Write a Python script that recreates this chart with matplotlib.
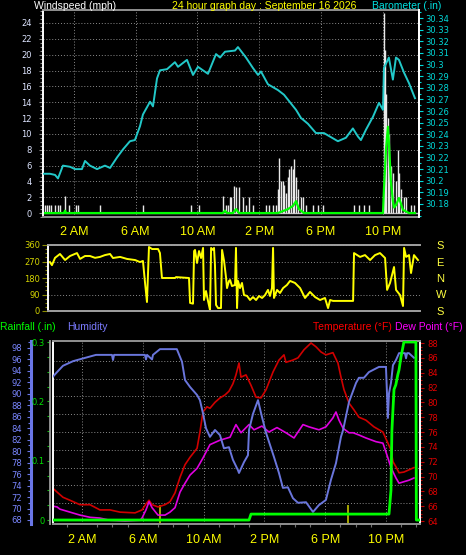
import matplotlib.pyplot as plt
import numpy as np
from matplotlib.ticker import MultipleLocator

plt.rcParams['font.family'] = ['Liberation Sans', 'DejaVu Sans']

W, H = 466, 555
PT = 0.72  # points per pixel at dpi 100

# ---- values (time in hours since midnight) ----
baro_hours = [0.00, 0.45, 0.78, 0.97, 1.29, 1.75, 2.07, 2.52, 2.72, 3.04, 3.50, 4.01,
              4.34, 4.79, 5.18, 5.63, 5.95, 6.28, 6.47, 6.93, 7.12, 7.38, 7.57, 8.03,
              8.54, 8.74, 9.32, 9.71, 10.03, 10.68, 11.20, 11.46, 11.78, 12.43, 12.62,
              13.14, 13.59, 13.92, 14.11, 14.56, 15.21, 15.60, 16.38, 16.70, 17.15,
              17.67, 18.19, 19.09, 19.61, 20.06, 20.39, 20.58, 20.91, 21.36, 21.75,
              22.01, 22.07, 22.39, 22.65, 22.85, 23.04, 23.37, 23.69, 24.08]
baro_inhg = [30.206, 30.206, 30.205, 30.202, 30.213, 30.212, 30.210, 30.210, 30.217,
             30.213, 30.210, 30.213, 30.211, 30.220, 30.227, 30.234, 30.235, 30.247,
             30.257, 30.268, 30.264, 30.288, 30.295, 30.296, 30.302, 30.298, 30.304,
             30.291, 30.298, 30.292, 30.309, 30.306, 30.311, 30.312, 30.315, 30.306,
             30.297, 30.291, 30.294, 30.283, 30.278, 30.274, 30.261, 30.254, 30.249,
             30.241, 30.241, 30.234, 30.237, 30.245, 30.238, 30.235, 30.244, 30.255,
             30.267, 30.261, 30.297, 30.306, 30.287, 30.306, 30.304, 30.293, 30.284,
             30.271]

gust_hours = [0.13, 0.26, 0.39, 0.52, 0.78, 0.97, 1.10, 1.42, 1.68, 2.14, 2.27, 3.69,
              6.47, 9.58, 10.10, 11.65, 11.84, 11.97, 12.10, 12.17, 12.36, 12.49, 12.69,
              12.94, 13.14, 13.33, 13.59, 14.43, 14.63, 14.89, 15.08, 15.21, 15.28,
              15.40, 15.53, 15.60, 15.73, 15.86, 15.92, 16.05, 16.18, 16.25, 16.38,
              16.50, 16.70, 16.83, 17.02, 17.48, 17.80, 18.12, 20.13, 20.45, 20.78,
              21.10, 22.07, 22.14, 22.20, 22.33, 22.39, 22.52, 22.65, 22.85, 22.98,
              23.04, 23.17, 23.37, 23.50, 23.82, 24.01]
gust_mph = [1, 1, 1, 1, 1, 1, 1, 2.1, 1, 1, 1, 1,
            1, 1, 1, 2.1, 1, 1, 2, 2, 3.4, 3.3, 3.3,
            2, 1, 2, 1, 1, 1, 1, 1, 3, 6.9,
            4, 4, 3.5, 2.5, 4.5, 5.5, 6, 5.5, 6.8, 4.5,
            3, 2, 2, 1, 1, 1, 1, 1, 1, 1,
            1, 25.3, 20.6, 15, 12, 10, 6, 5, 4, 8,
            5, 3, 2, 2, 1, 1]

wind_hours = [0.00, 1.36, 1.42, 1.49, 11.65, 11.78, 11.91, 12.30, 12.49, 12.69, 15.21,
              15.34, 15.86, 16.18, 16.38, 16.57, 16.76, 16.89, 22.01, 22.07, 22.20,
              22.33, 22.39, 22.52, 22.65, 22.72, 22.85, 23.04, 23.17, 23.30, 23.50,
              23.69, 24.08]
wind_mph = [0, 0, 0.3, 0, 0, 0.3, 0, 0, 0.5, 0, 0,
            0.1, 0.5, 0.9, 1.5, 0.5, 0.2, 0, 0, 3, 8,
            10.9, 9, 4, 1.5, 0.7, 1.0, 1.9, 1.2, 0.4, 0.2,
            0, 0]

dir_hours = [0.06, 0.19, 0.39, 0.71, 1.04, 1.36, 1.81, 2.01, 2.33, 2.65, 2.98, 3.30,
             3.62, 3.95, 4.14, 4.60, 5.05, 5.57, 5.89, 6.08, 6.21, 6.34, 6.47, 6.67,
             7.06, 7.18, 7.31, 8.16, 8.22, 9.06, 9.13, 9.32, 9.39, 9.45, 9.58, 9.71,
             9.84, 9.97, 10.03, 10.16, 10.29, 10.42, 10.49, 10.61, 10.68, 10.74, 10.81,
             10.94, 11.13, 11.20, 11.33, 11.46, 11.52, 11.65, 11.72, 11.84, 12.04,
             12.10, 12.17, 12.23, 12.36, 12.49, 12.62, 12.82, 13.01, 13.20, 13.40,
             13.59, 13.79, 13.98, 14.17, 14.30, 14.43, 14.50, 14.56, 14.76, 14.95,
             15.15, 15.40, 15.60, 15.92, 16.25, 16.57, 16.89, 17.22, 17.54, 17.86,
             18.06, 18.19, 18.38, 19.68, 19.74, 20.13, 20.45, 20.78, 21.10, 21.42,
             21.75, 21.88, 22.07, 22.33, 22.46, 22.72, 22.91, 22.98, 23.11, 23.30,
             23.43, 23.62, 23.88]
dir_deg = [267, 250, 290, 311, 278, 300, 316, 284, 300, 300, 290, 295,
           305, 311, 289, 295, 284, 278, 267, 273, 158, 49, 349, 338,
           338, 316, 180, 180, 185, 180, 44, 40, 327, 333, 262, 327,
           289, 344, 60, 109, 55, 5, 344, 333, 344, 251, 33,
           16, 16, 333, 273, 180, 125, 164, 169, 136, 142,
           344, 16, 164, 125, 153, 87, 82, 60, 76, 60,
           82, 71, 87, 115, 82, 125, 344, 71, 115, 98,
           125, 142, 164, 153, 125, 71, 104, 76, 60, 71,
           16, 60, 55, 55, 316, 295, 305, 278, 305, 316,
           289, 115, 153, 240, 115, 87, 27, 344, 295, 305,
           207, 305, 278]

hum_hours = [0.09, 0.36, 0.75, 1.41, 2.92, 3.97, 4.04, 4.11, 6.14, 6.21, 6.28, 6.61,
             6.67, 7.13, 8.24, 8.58, 8.78, 9.11, 9.57, 9.76, 9.96, 10.16, 10.42, 10.75,
             11.08, 11.34, 11.67, 11.93, 12.26, 12.33, 12.66, 12.92, 12.99, 13.25,
             13.58, 13.84, 14.11, 14.63, 14.96, 15.22, 15.55, 15.88, 16.21, 16.74,
             17.20, 17.59, 18.05, 18.38, 18.71, 19.04, 19.18, 19.57, 20.03, 20.22,
             20.55, 20.88, 21.54, 22.00, 22.13, 22.20, 22.33, 22.46, 22.66, 22.86,
             23.25, 23.32, 23.39, 23.51, 23.84]
hum_pct = [93.0, 93.8, 94.9, 95.7, 96.8, 96.8, 95.9, 96.8, 96.8, 96.0, 96.8, 96.0,
           96.8, 97.8, 97.8, 95.6, 92.4, 91.2, 89.8, 88.9, 86.6, 84.0, 82.5, 83.7,
           82.8, 80.5, 80.7, 78.5, 76.7, 76.2, 78.1, 79.3, 83.7, 86.5,
           88.9, 86.0, 83.2, 79.0, 76.2, 73.6, 73.7, 71.8, 71.0, 71.1,
           69.4, 70.6, 71.5, 75.0, 77.9, 82.5, 83.7, 88.6, 91.9, 92.8,
           92.8, 93.8, 94.7, 94.7, 85.8, 90.1, 91.9, 95.0, 95.9, 97.1,
           97.1, 96.2, 97.1, 97.1, 96.3]

temp_hours = [0.09, 0.36, 0.75, 1.21, 1.87, 2.53, 3.18, 3.84, 4.50, 5.49, 5.95, 6.21,
              6.41, 6.61, 7.00, 7.46, 7.79, 8.12, 8.45, 8.78, 9.11, 9.57, 9.76, 9.96,
              10.22, 10.42, 10.75, 11.08, 11.41, 11.67, 11.93, 12.13, 12.33, 12.46,
              12.79, 13.12, 13.45, 13.78, 14.11, 14.57, 14.96, 15.29, 15.42, 15.88,
              16.21, 16.61, 17.07, 17.39, 17.72, 18.05, 18.51, 18.84, 19.04, 19.24,
              19.57, 19.89, 20.22, 20.68, 21.21, 21.80, 22.13, 22.33, 22.46, 22.66,
              22.86, 23.18, 23.51, 23.84]
temp_f = [68.4, 67.9, 67.2, 66.8, 66.2, 66.2, 65.5, 65.5, 65.2, 65.1, 65.5, 66.3,
          66.8, 66.2, 65.9, 66.2, 66.6, 67.8, 69.9, 71.6, 72.6, 73.8, 76.0, 78.7,
          79.4, 79.2, 80.0, 80.6, 81.0, 81.5, 82.5, 83.7, 85.3, 83.4,
          83.7, 82.3, 80.7, 80.6, 81.7, 84.1, 85.7, 86.4, 85.4, 85.7,
          86.0, 87.1, 88.0, 87.5, 86.8, 86.4, 86.7, 85.3, 83.4, 81.7,
          79.9, 79.0, 78.0, 77.6, 76.7, 76.0, 74.5, 73.6, 72.0, 71.3,
          70.5, 70.6, 70.9, 71.2]

dew_hours = [0.09, 0.36, 0.55, 1.21, 1.87, 2.53, 3.18, 3.84, 4.83, 5.82, 5.95, 6.21,
             6.41, 6.61, 7.00, 7.46, 7.79, 8.12, 8.45, 8.78, 9.11, 9.57, 9.96, 10.42,
             11.08, 11.74, 12.13, 12.46, 12.99, 13.32, 13.84, 14.30, 14.83, 15.42,
             15.95, 16.54, 16.93, 17.59, 18.05, 18.51, 18.71, 18.91, 19.18, 19.57,
             19.84, 20.22, 20.68, 21.34, 21.80, 22.13, 22.33, 22.66, 22.86, 23.18,
             23.51, 23.84]
dew_f = [66.0, 65.9, 65.6, 65.2, 64.8, 64.5, 64.4, 64.1, 64.0, 64.1, 64.4, 65.5,
         66.6, 65.8, 64.8, 64.8, 65.2, 65.8, 67.9, 69.1, 70.2, 71.1, 72.5, 74.3,
         74.9, 75.3, 77.0, 75.9, 77.0, 76.3, 76.8, 76.0, 76.6, 75.9,
         75.2, 77.0, 76.7, 76.3, 76.7, 77.9, 78.7, 77.6, 76.5, 75.9,
         75.9, 75.6, 75.2, 74.7, 74.5, 72.5, 71.2, 69.8, 69.1, 69.3,
         69.5, 69.8]

rain_hours = [0.09, 12.99, 13.12, 22.20, 22.33, 22.39, 22.46, 22.53, 22.65, 22.78,
              22.86, 22.99, 23.12, 23.18, 23.97, 24.00, 24.24]
rain_in = [0.0, 0.0, 0.01, 0.01, 0.05, 0.15, 0.186, 0.22, 0.228, 0.245,
           0.253, 0.275, 0.292, 0.30, 0.30, 0.0, 0.0]

sun_hours = [7.13, 19.5]   # sunrise / sunset markers

time_ticks = [2, 6, 10, 14, 18, 22]
time_labels = ["2 AM", "6 AM", "10 AM", "2 PM", "6 PM", "10 PM"]
dir_ticks = [0, 90, 180, 270, 360]
dir_letters = ["S", "W", "N", "E", "S"]

# ---- figure ----
fig = plt.figure(figsize=(W / 100, H / 100), dpi=100)
fig.patch.set_facecolor("black")

NARROW = "Liberation Sans Narrow"
GRID = dict(color="#8a8a8a", linestyle=(0, (1, 2)), linewidth=0.7)


def axes_px(left, top, right, bottom):
    return fig.add_axes([left / W, 1 - bottom / H, (right - left) / W, (bottom - top) / H])


def text_px(x, y, s, **kw):
    fig.text(x / W, 1 - y / H, s, fontsize=7.5, va="baseline", **kw)


def frame(ax, left="white", right=None, top="#909090", bottom="#909090"):
    for side, col in (("left", left), ("right", right), ("top", top), ("bottom", bottom)):
        if col is None:
            ax.spines[side].set_visible(False)
        else:
            ax.spines[side].set_color(col)
            ax.spines[side].set_linewidth(1.4)


# panel 1: wind speed + barometer
ax1 = axes_px(43, 10, 419, 217)
ax1.set_facecolor("black")
ax1.set_xlim(0, 24.34)
ax1.set_ylim(-0.5, 25.64)
ax1.axhline(0, color="#b8b8b8", lw=1)
ax1.vlines(gust_hours, 0, gust_mph, color="#e8e8e8", lw=1)
ax1.plot(wind_hours, wind_mph, color="#00ff00", lw=1.6, clip_on=False)
ax1.set_yticks(range(0, 25, 2))
ax1.yaxis.set_minor_locator(MultipleLocator(0.5))
ax1.set_xticks(time_ticks, time_labels)
ax1.grid(True, **GRID)
ax1.set_axisbelow(True)
ax1.tick_params(axis="y", which="both", colors="#909090", labelcolor="#dde4ff",
                labelsize=6, labelfontfamily=NARROW, length=4 * PT, width=0.8, pad=7 * PT)
ax1.tick_params(axis="y", which="minor", length=3 * PT)
ax1.tick_params(axis="x", length=0, labelcolor="#ffff00", labelsize=9, pad=9 * PT)
frame(ax1, right="white")

ax1b = ax1.twinx()
ax1b.set_ylim(30.1688, 30.3469)
ax1b.plot(baro_hours, baro_inhg, color="#22c8c8", lw=1.4)
baro_ticks = np.round(np.arange(30.18, 30.345, 0.01), 2)
ax1b.set_yticks(baro_ticks, [f"{v:g}" for v in baro_ticks])
ax1b.yaxis.set_minor_locator(MultipleLocator(0.005))
ax1b.tick_params(axis="y", which="both", colors="#00d8d8", labelsize=6,
                 labelfontfamily=NARROW, length=4 * PT, width=0.8, pad=2 * PT)
ax1b.tick_params(axis="y", which="minor", length=2 * PT)
frame(ax1b, left=None, right="white", top=None, bottom=None)

# panel 2: wind direction
ax2 = axes_px(48, 245, 420, 311)
ax2.set_facecolor("black")
ax2.set_xlim(-0.065, 24.01)
ax2.set_ylim(0, 360)
ax2.plot(dir_hours, dir_deg, color="#ffff00", lw=1.4)
ax2.set_xticks([])
ax2.set_yticks(dir_ticks)
ax2.yaxis.set_minor_locator(MultipleLocator(22.5))
ax2.grid(True, axis="y", **GRID)
ax2.tick_params(axis="y", which="both", colors="#8a8a00", labelcolor="#d4d400",
                labelsize=6, labelfontfamily=NARROW, length=6 * PT, width=0.8, pad=2 * PT)
ax2.tick_params(axis="y", which="minor", length=3 * PT)
frame(ax2, bottom="#a0a0a0", top="#a0a0a0")

ax2b = ax2.twinx()
ax2b.set_ylim(0, 360)
ax2b.set_yticks(dir_ticks, dir_letters)
ax2b.tick_params(axis="y", length=0, labelcolor="#ffff40", labelsize=8, pad=16 * PT)
frame(ax2b, left=None, right=None, top=None, bottom=None)

# panel 3: temperature, dew point, humidity, rainfall
ax3 = axes_px(53, 341, 420, 524)
ax3.set_facecolor("black")
ax3.set_xlim(0.092, 24.24)
ax3.set_ylim(63.6, 88.27)
for v in np.linspace(64, 88, 11)[1:-1]:
    ax3.axhline(v, **GRID)
ax3.set_xticks(time_ticks, time_labels)
ax3.xaxis.set_minor_locator(MultipleLocator(1))
ax3.grid(True, axis="x", **GRID)
for h in sun_hours:
    ax3.axvline(h, ymin=0, ymax=0.1, color="#a8a800", lw=1.4)
ax3.plot(temp_hours, temp_f, color="#d00000", lw=1.2)
ax3.plot(dew_hours, dew_f, color="#e000e0", lw=1.2)

ax3h = ax3.twinx()
ax3r = ax3.twinx()

ax3.yaxis.tick_right()
ax3.set_yticks(range(64, 89, 2))
ax3.yaxis.set_minor_locator(MultipleLocator(0.5))
ax3.tick_params(axis="y", which="both", left=False, labelleft=False, colors="#c00000",
                labelcolor="#e00000", labelsize=6, labelfontfamily=NARROW,
                length=4 * PT, width=0.8, pad=3 * PT)
ax3.tick_params(axis="y", which="minor", length=2 * PT)
ax3.tick_params(axis="x", which="major", length=0, labelcolor="#ffff00", labelsize=9,
                pad=10 * PT)
ax3.tick_params(axis="x", which="minor", length=3 * PT, color="#707070", width=0.8)
frame(ax3, right="white")

ax3h.set_ylim(67.30, 99.22)
ax3h.plot(hum_hours, hum_pct, color="#6a76dc", lw=1.4)
ax3h.yaxis.set_ticks_position("left")
ax3h.set_yticks(range(68, 99, 2))
ax3h.yaxis.set_minor_locator(MultipleLocator(1))
ax3h.tick_params(axis="y", which="both", colors="#6a76e8", labelcolor="#7a86ff",
                 labelsize=6, labelfontfamily=NARROW, length=4 * PT, width=0.8, pad=5 * PT)
ax3h.tick_params(axis="y", which="minor", length=3 * PT)
frame(ax3h, left="#6a76e8", right=None, top=None, bottom=None)
ax3h.spines["left"].set_position(("outward", 22 * PT))
ax3h.spines["left"].set_linewidth(2.2)

ax3r.set_ylim(-0.0067, 0.3017)
ax3r.plot(rain_hours, rain_in, color="#00ff00", lw=2)
ax3r.yaxis.set_ticks_position("left")
ax3r.set_yticks([0, 0.1, 0.2, 0.3], ["0", "0.1", "0.2", "0.3"])
ax3r.yaxis.set_minor_locator(MultipleLocator(0.025))
ax3r.tick_params(axis="y", which="both", colors="#10c010", labelcolor="#00e000",
                 labelsize=6, labelfontfamily=NARROW, length=3 * PT, width=0.8, pad=2 * PT)
frame(ax3r, left="#909090", right=None, top=None, bottom=None)
ax3r.spines["left"].set_position(("outward", 3 * PT))

# headers
text_px(34, 9, "Windspeed (mph)", color="white")
text_px(172, 9, "24 hour graph day : September 16 2026", color="#ffff00")
text_px(372, 9, "Barometer (.in)", color="#00e0e0")
text_px(0, 330, "Rainfall (.in)", color="#00ff00")
text_px(67, 330, "Humidity", color="#7b7bff")
text_px(313, 330, "Temperature (°F)", color="#ff0000")
text_px(395, 330, "Dew Point (°F)", color="#ff00ff")

fig.savefig("out.png", dpi=100, facecolor="black")
